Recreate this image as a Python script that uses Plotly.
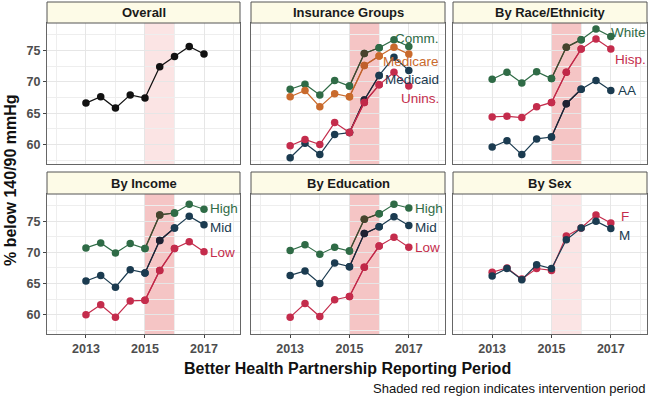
import plotly.graph_objects as go

# ---------------- data ----------------
periods = [2013, 2013.5, 2014, 2014.5, 2015, 2015.5, 2016, 2016.5, 2017]

overall = [66.6, 67.6, 65.8, 67.9, 67.4, 72.4, 74.0, 75.6, 74.4]

ins_comm = [68.8, 69.6, 67.9, 70.2, 69.3, 74.5, 75.4, 76.7, 75.6]
ins_medicare = [67.6, 68.6, 66.0, 68.1, 67.6, 72.6, 74.1, 75.5, 74.4]
ins_medicaid = [57.9, 60.2, 58.4, 61.6, 61.9, 67.1, 71.0, 73.9, 71.8]
ins_unins = [59.8, 60.8, 60.0, 63.5, 61.9, 66.7, 69.5, 71.5, 69.3]

race_white = [70.4, 71.5, 69.8, 71.6, 70.5, 75.5, 76.7, 78.4, 77.2]
race_hisp = [64.4, 64.5, 64.3, 66.0, 66.7, 71.5, 75.2, 76.8, 75.2]
race_aa = [59.6, 60.6, 58.4, 60.9, 61.2, 66.5, 68.8, 70.2, 68.6]

inc_high = [70.7, 71.5, 69.9, 71.4, 70.6, 76.0, 76.3, 77.7, 76.9]
inc_mid = [65.4, 66.3, 64.4, 67.2, 66.7, 71.9, 73.9, 75.8, 74.4]
inc_low = [60.0, 61.6, 59.6, 62.2, 62.3, 67.1, 70.6, 71.7, 70.1]

edu_high = [70.3, 71.2, 69.7, 70.8, 70.2, 75.3, 76.2, 77.7, 77.1]
edu_mid = [66.3, 67.0, 65.0, 68.3, 67.7, 73.0, 74.1, 75.7, 74.3]
edu_low = [59.6, 61.8, 59.7, 62.4, 62.9, 67.6, 71.0, 72.4, 70.8]

sex_f = [66.8, 67.5, 65.7, 67.4, 67.1, 72.6, 73.9, 76.0, 74.7]
sex_m = [66.2, 67.4, 65.6, 68.0, 67.4, 72.0, 73.9, 75.0, 73.8]

panel_titles = ["Overall", "Insurance Groups", "By Race/Ethnicity",
                "By Income", "By Education", "By Sex"]
x_tick_labels = [2013, 2015, 2017]
y_tick_labels = [60, 65, 70, 75]
intervention = [2015, 2016]

# ---------------- styles ----------------
GREEN = "#2f6b46"
NAVY = "#1b3b50"
ORANGE = "#c96a2c"
RED = "#c42c4c"
BLACK = "#111111"
# how each colour looks under the (darker) intervention shading
TINT = {GREEN: "#47432d", NAVY: "#1f2233", ORANGE: "#c0602c",
        RED: "#c02848", BLACK: "#111111"}

FONT = "Liberation Sans, Arial, Helvetica, sans-serif"

# panel -> list of (name, values, color, label_x, label_y, anchor)
panels = [
    [("Overall", overall, BLACK, None, None, None)],
    [("Comm.", ins_comm, GREEN, 2018.08, 76.9, "right"),
     ("Medicare", ins_medicare, ORANGE, 2018.08, 73.2, "right"),
     ("Medicaid", ins_medicaid, NAVY, 2018.08, 70.3, "right"),
     ("Unins.", ins_unins, RED, 2018.08, 67.4, "right")],
    [("White", race_white, GREEN, 2016.93, 77.8, "left"),
     ("Hisp.", race_hisp, RED, 2017.09, 73.5, "left"),
     ("AA", race_aa, NAVY, 2017.17, 68.6, "left")],
    [("High", inc_high, GREEN, 2017.14, 77.0, "left"),
     ("Mid", inc_mid, NAVY, 2017.14, 74.0, "left"),
     ("Low", inc_low, RED, 2017.14, 70.0, "left")],
    [("High", edu_high, GREEN, 2017.13, 77.1, "left"),
     ("Mid", edu_mid, NAVY, 2017.13, 74.0, "left"),
     ("Low", edu_low, RED, 2017.13, 70.7, "left")],
    [("F", sex_f, RED, 2017.47, 75.7, "center"),
     ("M", sex_m, NAVY, 2017.47, 72.7, "center")],
]
shade_colors = ["#fbe4e4", "#f5c5c5", "#f5c5c5", "#f5c5c5", "#f5c5c5", "#fbe4e4"]

W, H = 649, 397


def px(xp):
    return xp / W


def py(yp):
    return 1 - yp / H


col_px = [(47, 240), (251, 445), (453, 647)]
row_px = [(23, 164), (194, 334)]
strip_px = [(2, 23), (172, 194)]

XR = [2011.68, 2018.22]
YR = [56.9, 79.35]

fig = go.Figure()
layout = dict(
    width=W, height=H,
    margin=dict(l=0, r=0, t=0, b=0, pad=0),
    paper_bgcolor="white", plot_bgcolor="white",
    showlegend=False,
    font=dict(family=FONT, color="#333333"),
)
shapes = []
annotations = []

in_lo, in_hi = periods.index(intervention[0]), periods.index(intervention[1])

for i, series in enumerate(panels):
    r, c = divmod(i, 3)
    idx = "" if i == 0 else str(i + 1)
    xa, ya = "x" + idx, "y" + idx
    x0, x1 = col_px[c]
    yt, yb = row_px[r]
    layout["xaxis" + idx] = dict(
        domain=[px(x0), px(x1)], range=XR, anchor=ya, automargin=False,
        tickvals=x_tick_labels, ticktext=[str(v) for v in x_tick_labels],
        showticklabels=(r == 1), ticks="outside" if r == 1 else "",
        ticklen=3, tickcolor="#444",
        tickfont=dict(family=FONT, size=12.5, color="#4d4d4d", weight="bold"),
        showgrid=True, gridcolor="#e6e6e6", gridwidth=1,
        minor=dict(tickvals=[2012, 2014, 2016, 2018], showgrid=True,
                   gridcolor="#eeeeee", gridwidth=1),
        showline=True, mirror=True, linecolor="#666666", linewidth=1,
        zeroline=False, fixedrange=True,
    )
    layout["yaxis" + idx] = dict(
        domain=[py(yb), py(yt)], range=YR, anchor=xa, automargin=False,
        tickvals=y_tick_labels, ticktext=[str(v) for v in y_tick_labels],
        showticklabels=(c == 0), ticks="outside" if c == 0 else "",
        ticklen=3, tickcolor="#444",
        tickfont=dict(family=FONT, size=12.5, color="#4d4d4d", weight="bold"),
        showgrid=True, gridcolor="#e6e6e6", gridwidth=1,
        minor=dict(tickvals=[57.5, 62.5, 67.5, 72.5, 77.5], showgrid=True,
                   gridcolor="#eeeeee", gridwidth=1),
        showline=True, mirror=True, linecolor="#666666", linewidth=1,
        zeroline=False, fixedrange=True,
    )
    # intervention shading
    shapes.append(dict(type="rect", xref=xa, yref="y" + idx + " domain",
                       x0=intervention[0], x1=intervention[1], y0=0, y1=1,
                       fillcolor=shade_colors[i], line=dict(width=0),
                       layer="below"))
    # strip
    s0, s1 = strip_px[r]
    shapes.append(dict(type="rect", xref="paper", yref="paper",
                       x0=px(x0), x1=px(x1), y0=py(s1), y1=py(s0),
                       fillcolor="#fdfbe7", line=dict(color="#555555", width=1),
                       layer="above"))
    annotations.append(dict(text=panel_titles[i], xref="paper", yref="paper",
                            x=px((x0 + x1) / 2), y=py((s0 + s1) / 2),
                            xanchor="center", yanchor="middle", showarrow=False,
                            font=dict(family=FONT, size=13, color="#1a1a1a",
                                      weight="bold")))
    dark_panel = shade_colors[i] != "#fbe4e4"
    for name, vals, col, lx, ly, anc in series:
        fig.add_trace(go.Scatter(
            x=periods, y=vals, mode="lines+markers", name=name,
            line=dict(color=col, width=1.2),
            marker=dict(color=col, size=7.5),
            xaxis=xa, yaxis=ya, hoverinfo="skip", cliponaxis=False))
        tint = TINT[col] if dark_panel else col
        if tint != col:
            seg_x = periods[in_lo:in_hi + 1]
            seg_y = vals[in_lo:in_hi + 1]
            mcols = [col] + [tint] * (len(seg_x) - 2) + [col]
            fig.add_trace(go.Scatter(
                x=seg_x, y=seg_y, mode="lines+markers", name=name,
                line=dict(color=tint, width=1.2),
                marker=dict(color=mcols, size=7.5),
                xaxis=xa, yaxis=ya, hoverinfo="skip", cliponaxis=False))
        if lx is not None:
            annotations.append(dict(text=name, xref=xa, yref=ya, x=lx, y=ly,
                                    xanchor=anc, yanchor="middle",
                                    showarrow=False,
                                    font=dict(family=FONT, size=13.5, color=col)))

# axis titles and caption
annotations.append(dict(text="Better Health Partnership Reporting Period",
                        xref="paper", yref="paper", x=px(347), y=py(368),
                        xanchor="center", yanchor="middle", showarrow=False,
                        font=dict(family=FONT, size=16, color="#111111",
                                  weight="bold")))
annotations.append(dict(text="% below 140/90 mmHg", xref="paper", yref="paper",
                        x=px(10), y=py(180), textangle=-90,
                        xanchor="center", yanchor="middle", showarrow=False,
                        font=dict(family=FONT, size=16, color="#111111",
                                  weight="bold")))
annotations.append(dict(text="Shaded red region indicates intervention period",
                        xref="paper", yref="paper", x=px(647), y=py(388),
                        xanchor="right", yanchor="middle", showarrow=False,
                        font=dict(family=FONT, size=13, color="#111111")))

layout["shapes"] = shapes
layout["annotations"] = annotations
fig.update_layout(**layout)
# remove the browser's default 8px body margin so the figure starts at (0, 0)
fig.write_html("out.html",
               config={"displayModeBar": False, "staticPlot": True},
               post_script="document.body.style.margin='0px';")
